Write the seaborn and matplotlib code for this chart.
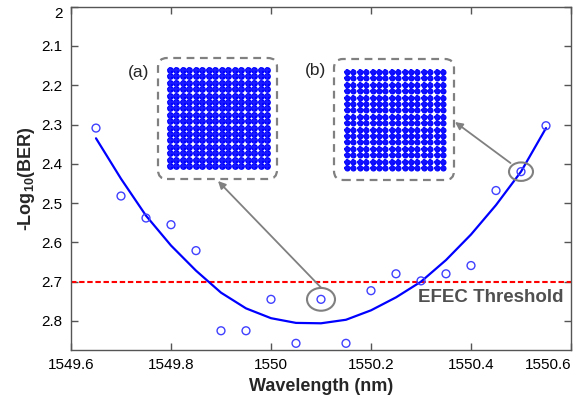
import numpy as np
import pandas as pd
import matplotlib
matplotlib.use("Agg")
import matplotlib.pyplot as plt
import seaborn as sns
from matplotlib.patches import Ellipse, FancyBboxPatch

# ---------------- data ----------------
wavelength = [1549.65, 1549.70, 1549.75, 1549.80, 1549.85, 1549.90, 1549.95,
              1550.00, 1550.05, 1550.10, 1550.15, 1550.20, 1550.25, 1550.30,
              1550.35, 1550.40, 1550.45, 1550.50, 1550.55]
neg_log_ber = [2.309, 2.482, 2.538, 2.555, 2.621, 2.825, 2.825,
               2.745, 2.857, 2.745, 2.857, 2.723, 2.680, 2.698,
               2.680, 2.659, 2.468, 2.420, 2.303]
fit_wavelength = wavelength
fit_neg_log_ber = [2.335, 2.438, 2.532, 2.608, 2.672, 2.728, 2.768,
                   2.793, 2.805, 2.806, 2.797, 2.773, 2.740, 2.700,
                   2.645, 2.580, 2.505, 2.420, 2.309]
threshold = 2.7
threshold_label = "EFEC Threshold"
x_ticks = [1549.6, 1549.8, 1550.0, 1550.2, 1550.4, 1550.6]
x_tick_labels = ["1549.6", "1549.8", "1550", "1550.2", "1550.4", "1550.6"]
y_ticks = [2.0, 2.1, 2.2, 2.3, 2.4, 2.5, 2.6, 2.7, 2.8]
y_tick_labels = ["2", "2.1", "2.2", "2.3", "2.4", "2.5", "2.6", "2.7", "2.8"]
qam_levels = [-15, -13, -11, -9, -7, -5, -3, -1, 1, 3, 5, 7, 9, 11, 13, 15]
inset_a_index = 9    # point shown in inset (a)
inset_b_index = 17   # point shown in inset (b)

# ---------------- style ----------------
sns.set_style("ticks")
plt.rcParams["font.family"] = ["Liberation Sans", "DejaVu Sans"]
plt.rcParams["mathtext.fontset"] = "custom"
plt.rcParams["mathtext.rm"] = "Liberation Sans"
plt.rcParams["mathtext.bf"] = "Liberation Sans:bold"

W, H = 583, 399
fig = plt.figure(figsize=(W / 100, H / 100), dpi=100)
fig.patch.set_facecolor("white")
ax = fig.add_axes([71 / W, 1 - 350 / H, 500 / W, 343.3 / H])

pts = pd.DataFrame({"wl": wavelength, "ber": neg_log_ber})
fit = pd.DataFrame({"wl": fit_wavelength, "ber": fit_neg_log_ber})

sns.lineplot(data=fit, x="wl", y="ber", ax=ax, color="#0000ff", lw=1.6, zorder=3)
sns.scatterplot(data=pts, x="wl", y="ber", ax=ax, marker="o", s=32,
                facecolor="none", edgecolor="#4040ff", linewidth=1.0, zorder=4)
ax.axhline(threshold, color="#ff0000", lw=1.5, ls=(0, (2.6, 1.3)), zorder=2)

ax.set_xlim(1549.6, 1550.6)
ax.set_ylim(2.874, 2.0)
ax.set_xticks(x_ticks)
ax.set_xticklabels(x_tick_labels)
ax.set_yticks(y_ticks)
ax.set_yticklabels(y_tick_labels)
ax.tick_params(direction="in", top=True, right=True, length=5, width=1,
               color="#555555", labelsize=11, labelcolor="black", pad=6)
for lbl in ax.get_yticklabels():
    if lbl.get_text() == "2":
        lbl.set_va("top")
for lbl in ax.get_xticklabels():
    if lbl.get_text() == "1550.6":
        lbl.set_ha("right")
for sp in ax.spines.values():
    sp.set_visible(True)
    sp.set_color("#555555")
    sp.set_linewidth(1.0)

ax.set_xlabel("Wavelength (nm)", fontsize=13, fontweight="bold", labelpad=4)
ax.set_ylabel(r"-Log$_{\mathbf{10}}$(BER)", fontsize=13, fontweight="bold", labelpad=3)

ax.text(1550.295, 2.741, threshold_label, fontsize=13.5, fontweight="bold",
        color="#505050", ha="left", va="center", zorder=5)

# circles around highlighted points
for idx, (w, h) in [(inset_a_index, (0.056, 0.058)), (inset_b_index, (0.048, 0.047))]:
    ax.add_patch(Ellipse((wavelength[idx], neg_log_ber[idx]), w, h, fill=False,
                         edgecolor="#808080", lw=1.5, zorder=5))

# arrows to insets (heads in figure pixels, origin bottom-left)
ax.annotate("", xy=(218, H - 181), xycoords="figure pixels",
            xytext=(wavelength[inset_a_index], neg_log_ber[inset_a_index] - 0.03),
            textcoords="data",
            arrowprops=dict(arrowstyle="-|>", color="#808080", lw=1.3,
                            mutation_scale=11, shrinkA=0, shrinkB=0), zorder=5)
ax.annotate("", xy=(455, H - 122), xycoords="figure pixels",
            xytext=(wavelength[inset_b_index] - 0.021, neg_log_ber[inset_b_index] - 0.022),
            textcoords="data",
            arrowprops=dict(arrowstyle="-|>", color="#808080", lw=1.3,
                            mutation_scale=11, shrinkA=0, shrinkB=0), zorder=5)

# inset frames (dashed rounded boxes), in inches
def frame(x0, y0, x1, y1):
    p = FancyBboxPatch((x0 / 100, (H - y1) / 100), (x1 - x0) / 100, (y1 - y0) / 100,
                       boxstyle="round,pad=0,rounding_size=0.09",
                       transform=fig.dpi_scale_trans, fill=False,
                       edgecolor="#808080", lw=1.6, ls=(0, (3.5, 2.5)))
    fig.patches.append(p)

frame(158, 58, 277, 179)
frame(334, 59, 454, 180)

gx, gy = np.meshgrid(qam_levels, qam_levels)

ia = fig.add_axes([166 / W, 1 - 170 / H, 105 / W, 104 / H])
ia.scatter(gx.ravel(), gy.ravel(), s=24, color="#0000ff", marker="o", linewidths=0)
ia.scatter(gx.ravel(), gy.ravel(), s=16, color="#1a1aff", marker="+", linewidths=1.3)
ia.set_xlim(-16.2, 16.2); ia.set_ylim(-16.2, 16.2); ia.axis("off")

ib = fig.add_axes([343 / W, 1 - 172 / H, 104 / W, 104 / H])
ib.scatter(gx.ravel(), gy.ravel(), s=19, color="#0000ff", marker="o", linewidths=0)
ib.scatter(gx.ravel(), gy.ravel(), s=20, color="#1010ff", marker="+", linewidths=1.7)
ib.set_xlim(-16.2, 16.2); ib.set_ylim(-16.2, 16.2); ib.axis("off")

fig.text(139 / W, 1 - 72 / H, "(a)", fontsize=12.5, ha="center", va="center")
fig.text(315 / W, 1 - 71 / H, "(b)", fontsize=12.5, ha="center", va="center")

fig.savefig("out.png", dpi=100, facecolor="white")
